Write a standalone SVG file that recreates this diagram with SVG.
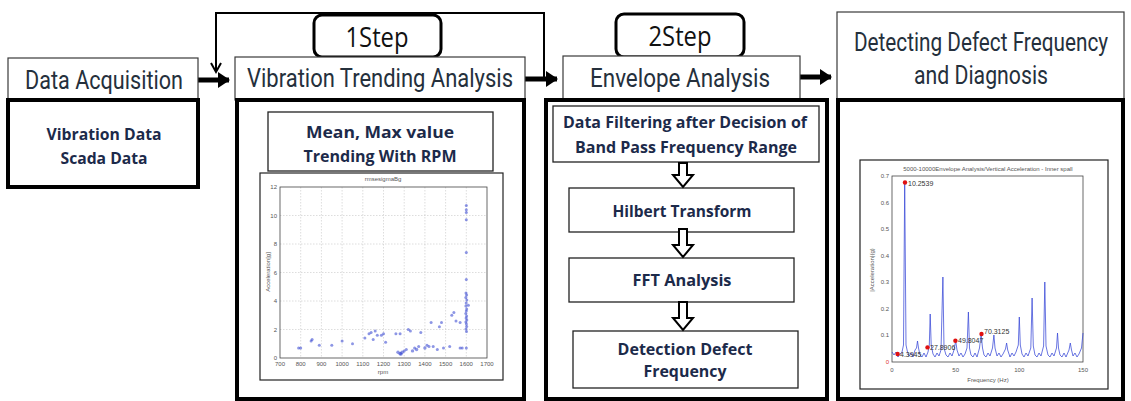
<svg xmlns="http://www.w3.org/2000/svg" width="1131" height="401" viewBox="0 0 1131 401">
<style>
.hdr{fill:#fff;stroke:#3a3a3a;stroke-width:1.2}
.body{fill:#fff;stroke:#000;stroke-width:4}
.inner{fill:#fff;stroke:#222;stroke-width:1.3}
.step{fill:#fff;stroke:#000;stroke-width:3}
.ht{font-family:Roboto,"Open Sans",sans-serif;font-size:25px;fill:#25303c;text-anchor:middle}
.bt{font-family:"Open Sans","Noto Sans",sans-serif;font-weight:700;font-size:16px;fill:#1c2a4a;text-anchor:middle}
.st{font-family:"Open Sans","Noto Sans",sans-serif;font-size:28px;fill:#111;text-anchor:middle}
.conn{stroke:#000;stroke-width:5;fill:none}
.fb{stroke:#000;stroke-width:2;fill:none}
.hollow{fill:#fff;stroke:#000;stroke-width:2}
.pf{fill:#fff;stroke:#222;stroke-width:1.2}
.ax{fill:none;stroke:#444;stroke-width:0.8}
.grid{stroke:#bbb;stroke-width:0.5;stroke-dasharray:1.5 1.5}
.tk{font-family:"Liberation Sans",sans-serif;font-size:6px;fill:#555}
.pt{fill:#2f3fd0;fill-opacity:0.55}
.rd{fill:#e01010}
.ml{font-family:"Liberation Sans",sans-serif;font-size:7px;fill:#333}
</style>
<defs>
<marker id="ah" markerWidth="4" markerHeight="4" refX="2.2" refY="2" orient="auto" markerUnits="strokeWidth">
<path d="M0,0.4 L2.4,2 L0,3.6 z" fill="#000"/>
</marker>
</defs>

<g id="connectors">
<line class="conn" x1="198" y1="80" x2="229" y2="80" marker-end="url(#ah)"/>
<line class="conn" x1="525" y1="79" x2="557" y2="79" marker-end="url(#ah)"/>
<line class="conn" x1="800" y1="77" x2="831" y2="77" marker-end="url(#ah)"/>
<polyline class="fb" points="544,78 544,13 216,13 216,72"/>
<polyline class="fb" points="211,63 216,72 221,63"/>
</g>

<g id="data-acquisition">
<rect class="hdr" x="8" y="58" width="190" height="42"/>
<text class="ht" x="104" y="89" textLength="158" lengthAdjust="spacingAndGlyphs">Data Acquisition</text>
<rect class="body" x="8" y="100" width="190" height="87"/>
<text class="bt" x="104" y="140" textLength="115" lengthAdjust="spacingAndGlyphs">Vibration Data</text>
<text class="bt" x="104" y="164" textLength="87" lengthAdjust="spacingAndGlyphs">Scada Data</text>
</g>

<g id="step1">
<rect class="step" x="314" y="15" width="127" height="42" rx="8"/>
<text class="st" x="377" y="47" textLength="63" lengthAdjust="spacingAndGlyphs">1Step</text>
</g>

<g id="vibration-trending">
<rect class="hdr" x="235" y="57" width="290" height="43"/>
<text class="ht" x="380" y="87" textLength="266" lengthAdjust="spacingAndGlyphs">Vibration Trending Analysis</text>
<rect class="body" x="237" y="100" width="287" height="299"/>
<rect class="inner" x="268" y="112" width="225" height="59"/>
<text class="bt" x="380" y="138" textLength="148" lengthAdjust="spacingAndGlyphs">Mean, Max value</text>
<text class="bt" x="380" y="162" textLength="153" lengthAdjust="spacingAndGlyphs">Trending With RPM</text>
</g>

<g id="trend-plot">
<rect class="pf" x="260" y="173" width="243" height="207"/>
<g class="grid">
<line x1="300.7" y1="187" x2="300.7" y2="358"/><line x1="321.4" y1="187" x2="321.4" y2="358"/><line x1="342.1" y1="187" x2="342.1" y2="358"/><line x1="362.8" y1="187" x2="362.8" y2="358"/><line x1="383.5" y1="187" x2="383.5" y2="358"/><line x1="404.2" y1="187" x2="404.2" y2="358"/><line x1="424.9" y1="187" x2="424.9" y2="358"/><line x1="445.6" y1="187" x2="445.6" y2="358"/><line x1="466.3" y1="187" x2="466.3" y2="358"/>
<line x1="280" y1="215.5" x2="487" y2="215.5"/><line x1="280" y1="244" x2="487" y2="244"/><line x1="280" y1="272.5" x2="487" y2="272.5"/><line x1="280" y1="301" x2="487" y2="301"/><line x1="280" y1="329.5" x2="487" y2="329.5"/>
</g>
<rect class="ax" x="280" y="187" width="207" height="171"/>
<text class="tk" x="383" y="181" text-anchor="middle">rmsesigmaBg</text>
<g class="tk" text-anchor="end">
<text x="277" y="189">12</text><text x="277" y="217.5">10</text><text x="277" y="246">8</text><text x="277" y="274.5">6</text><text x="277" y="303">4</text><text x="277" y="331.5">2</text><text x="277" y="360">0</text>
</g>
<g class="tk" text-anchor="middle">
<text x="280" y="366">700</text><text x="300.7" y="366">800</text><text x="321.4" y="366">900</text><text x="342.1" y="366">1000</text><text x="362.8" y="366">1100</text><text x="383.5" y="366">1200</text><text x="404.2" y="366">1300</text><text x="424.9" y="366">1400</text><text x="445.6" y="366">1500</text><text x="466.3" y="366">1600</text><text x="487" y="366">1700</text>
<text x="383" y="374">rpm</text>
</g>
<text class="tk" x="0" y="0" text-anchor="middle" transform="translate(270,272) rotate(-90)">Acceleration[g]</text>
<g class="pt">
<circle cx="298.6" cy="348" r="1.5"/><circle cx="300.7" cy="348" r="1.5"/>
<circle cx="311.1" cy="340.9" r="1.5"/><circle cx="312.1" cy="339.5" r="1.5"/>
<circle cx="319.3" cy="345.2" r="1.5"/><circle cx="331.8" cy="345.2" r="1.5"/>
<circle cx="342.1" cy="340.9" r="1.5"/><circle cx="352.5" cy="343.8" r="1.5"/>
<circle cx="364.9" cy="338" r="1.5"/><circle cx="369" cy="333.8" r="1.5"/><circle cx="371.1" cy="332.4" r="1.5"/><circle cx="373.2" cy="339.5" r="1.5"/><circle cx="375.2" cy="330.9" r="1.5"/><circle cx="377.3" cy="335.2" r="1.5"/><circle cx="381.4" cy="335.2" r="1.5"/><circle cx="383.5" cy="333.8" r="1.5"/><circle cx="385.6" cy="342.3" r="1.5"/>
<circle cx="395.9" cy="333.8" r="1.5"/><circle cx="400.1" cy="333.8" r="1.5"/><circle cx="398" cy="352.3" r="1.7"/><circle cx="400.1" cy="353.7" r="1.8"/><circle cx="402.1" cy="352.3" r="1.8"/><circle cx="401" cy="354" r="1.8"/><circle cx="404.2" cy="350.9" r="1.5"/><circle cx="406.3" cy="349.5" r="1.5"/><circle cx="408.3" cy="329.5" r="1.5"/><circle cx="410.4" cy="330.9" r="1.5"/><circle cx="412.5" cy="350.9" r="1.7"/><circle cx="414.6" cy="348" r="1.5"/><circle cx="416.6" cy="349.5" r="1.7"/><circle cx="418.7" cy="346.6" r="1.5"/><circle cx="420.8" cy="332.4" r="1.5"/><circle cx="424.9" cy="348" r="1.7"/><circle cx="427" cy="345.2" r="1.5"/><circle cx="429" cy="346.6" r="1.5"/><circle cx="431.1" cy="322.4" r="1.5"/><circle cx="433.2" cy="346.6" r="1.5"/><circle cx="437.3" cy="349.5" r="1.5"/><circle cx="439.4" cy="326.7" r="1.5"/><circle cx="441.5" cy="322.4" r="1.5"/><circle cx="443.5" cy="348" r="1.5"/><circle cx="449.7" cy="346.6" r="1.5"/><circle cx="451.8" cy="315.3" r="1.5"/><circle cx="453.9" cy="312.4" r="1.5"/><circle cx="456" cy="321" r="1.5"/><circle cx="460.1" cy="322.4" r="1.5"/><circle cx="460.1" cy="348" r="1.5"/><circle cx="462.2" cy="348" r="1.5"/>
<circle cx="466.3" cy="205.5" r="1.5"/><circle cx="466.3" cy="209.8" r="1.5"/><circle cx="466.3" cy="212.6" r="1.5"/><circle cx="466.3" cy="219.8" r="1.5"/><circle cx="466.3" cy="252.5" r="1.5"/><circle cx="466.3" cy="279.6" r="1.5"/><circle cx="466.3" cy="348" r="1.5"/><circle cx="468.4" cy="305.3" r="1.5"/>
<circle cx="466" cy="293" r="1.5"/><circle cx="466.6" cy="295" r="1.5"/><circle cx="465.8" cy="297.5" r="1.5"/><circle cx="466.8" cy="300" r="1.5"/><circle cx="466.2" cy="303" r="1.5"/><circle cx="465.9" cy="306" r="1.5"/><circle cx="466.7" cy="309" r="1.5"/><circle cx="466.3" cy="311" r="1.5"/><circle cx="465.8" cy="313.5" r="1.5"/><circle cx="466.6" cy="316" r="1.5"/><circle cx="466.1" cy="318" r="1.5"/><circle cx="466.8" cy="320" r="1.5"/><circle cx="465.9" cy="322" r="1.5"/><circle cx="466.4" cy="324" r="1.5"/><circle cx="466.7" cy="326.5" r="1.5"/><circle cx="466" cy="329" r="1.5"/><circle cx="466.5" cy="331.5" r="1.5"/>
</g>
</g>

<g id="step2">
<rect class="step" x="616" y="14" width="128" height="43" rx="8"/>
<text class="st" x="680" y="46" textLength="63" lengthAdjust="spacingAndGlyphs">2Step</text>
</g>

<g id="envelope-analysis">
<rect class="hdr" x="563" y="56" width="237" height="44"/>
<text class="ht" x="680" y="87" textLength="180" lengthAdjust="spacingAndGlyphs">Envelope Analysis</text>
<rect class="body" x="546" y="100" width="281" height="299"/>
</g>

<g id="band-pass">
<rect class="inner" x="553" y="106" width="266" height="56"/>
<text class="bt" x="685" y="128" textLength="244" lengthAdjust="spacingAndGlyphs">Data Filtering after Decision of</text>
<text class="bt" x="686" y="153" textLength="222" lengthAdjust="spacingAndGlyphs">Band Pass Frequency  Range</text>
</g>
<g id="hilbert">
<rect class="inner" x="569" y="188" width="225" height="44"/>
<text class="bt" x="682" y="217" textLength="139" lengthAdjust="spacingAndGlyphs">Hilbert Transform</text>
</g>
<g id="fft">
<rect class="inner" x="569" y="258" width="225" height="44"/>
<text class="bt" x="682" y="286" textLength="99" lengthAdjust="spacingAndGlyphs">FFT Analysis</text>
</g>
<g id="detection">
<rect class="inner" x="573" y="331" width="225" height="57"/>
<text class="bt" x="685" y="355" textLength="135" lengthAdjust="spacingAndGlyphs">Detection Defect</text>
<text class="bt" x="685" y="377" textLength="83" lengthAdjust="spacingAndGlyphs">Frequency</text>
</g>
<g id="flow-arrows">
<path class="hollow" d="M679,163 H687 V175 H693 L683,187 L673,175 H679 Z"/>
<path class="hollow" d="M679,229 H687 V245 H693 L683,257 L673,245 H679 Z"/>
<path class="hollow" d="M679,302 H687 V318 H693 L683,330 L673,318 H679 Z"/>
</g>

<g id="detecting-diagnosis">
<rect class="hdr" x="837" y="12" width="287" height="88"/>
<text class="ht" x="0" y="0" font-size="22" transform="translate(981,51) scale(0.83,1)">Detecting Defect Frequency</text>
<text class="ht" x="0" y="0" font-size="22" transform="translate(981,84) scale(0.85,1)">and Diagnosis</text>
<rect class="body" x="838" y="100" width="285" height="299"/>
</g>

<g id="spectrum-plot">
<rect class="pf" x="860" y="160" width="248" height="229"/>
<rect class="ax" x="892" y="176" width="191" height="186"/>
<text class="tk" x="988" y="171" text-anchor="middle">5000-10000Envelope Analysis/Vertical Acceleration - Inner spall</text>
<g class="tk" text-anchor="end">
<text x="889" y="178">0.7</text><text x="889" y="204.5">0.6</text><text x="889" y="231">0.5</text><text x="889" y="257.5">0.4</text><text x="889" y="284">0.3</text><text x="889" y="310.5">0.2</text><text x="889" y="337">0.1</text><text x="889" y="364" fill="#d33">0</text>
</g>
<g class="tk" text-anchor="middle">
<text x="892" y="372">0</text><text x="955.7" y="372">50</text><text x="1019.3" y="372">100</text><text x="1083" y="372">150</text>
<text x="988" y="382">Frequency (Hz)</text>
</g>
<text class="tk" x="0" y="0" text-anchor="middle" transform="translate(874,270) rotate(-90)">|Acceleration|(g)</text>
<polyline fill="none" stroke="#3a4ad8" stroke-width="0.9" stroke-opacity="0.85" points="892,352 894,355 896,352 898,357 900,354 902,352 903.5,345 904.7,182 906,345 907.5,352 909,356 911,353 913,357 915,350 916.5,348 917.5,341 918.5,348 920,355 922,357 924,353 926,357 928,352 929.3,345 930.2,314 931.2,345 933,354 935,357 937,353 939,356 941,350 942.9,277 944,348 946,355 948,357 950,353 952,356 954,350 955.7,341 957,350 959,356 961,353 963,357 965,354 967,348 968.4,312 969.5,348 971,355 973,357 975,353 977,357 979.5,348 981.1,334 982.5,348 984,355 986,357 988,353 990,356 992.5,348 993.9,335 995,348 997,356 999,353 1001,357 1003,354 1005.5,349 1006.6,343 1007.7,350 1010,357 1012,353 1014,356 1016,352 1018.3,345 1019.3,317 1020.3,345 1022,354 1024,357 1026,353 1028,356 1030.8,348 1032.1,298 1033.3,346 1035,355 1037,357 1039,353 1041,356 1043.6,346 1044.8,282 1046,346 1048,355 1050,357 1052,353 1054,356 1056.5,348 1057.5,333 1058.5,348 1060,355 1062,357 1064,353 1066,357 1069,350 1070.3,343 1071.5,350 1073,356 1075,353 1077,357 1079,354 1081.5,348 1083,333"/>
<circle class="rd" cx="897.6" cy="354" r="2.2"/><circle class="rd" cx="905" cy="182.5" r="2.2"/><circle class="rd" cx="927.5" cy="347.4" r="2.2"/><circle class="rd" cx="955.4" cy="340.7" r="2.2"/><circle class="rd" cx="981.5" cy="334" r="2.2"/>
<text class="ml" x="908" y="186" font-size="9">10.2539</text>
<text class="ml" x="900" y="357">4.3945</text>
<text class="ml" x="930" y="350">27.8906</text>
<text class="ml" x="958" y="343">49.8047</text>
<text class="ml" x="984" y="334">70.3125</text>
</g>
</svg>
